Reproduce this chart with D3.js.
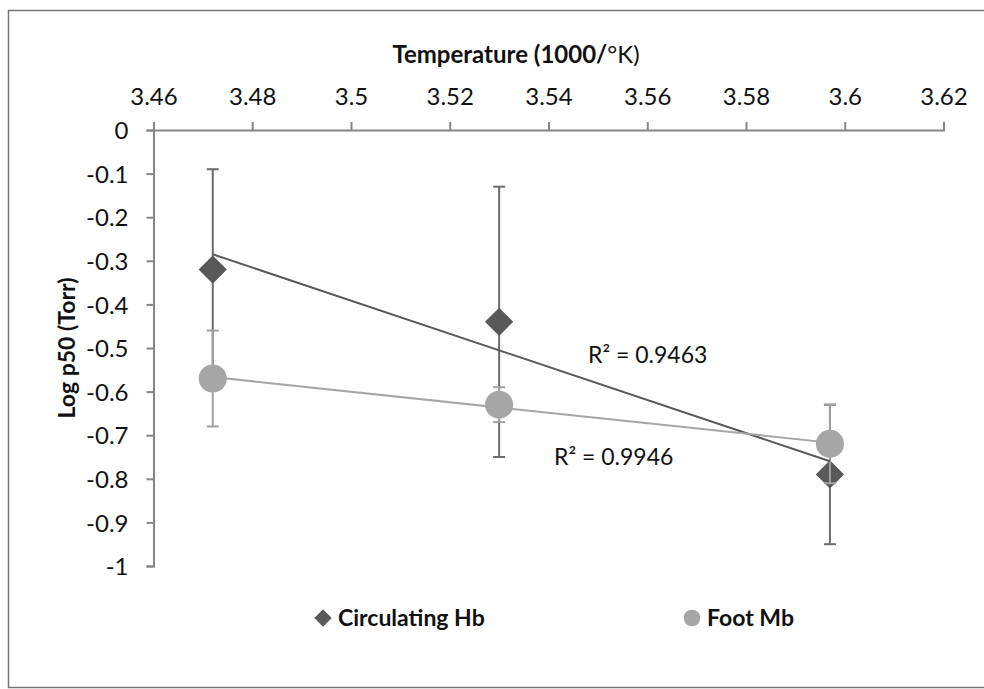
<!DOCTYPE html>
<html>
<head>
<meta charset="utf-8">
<script src="https://d3js.org/d3.v7.min.js"></script>
<style>
  html, body { margin: 0; background: #fff; overflow: hidden; }
  svg { display: block; }
  svg text { font-family: Lato, "Open Sans", sans-serif; fill: #111; }
</style>
</head>
<body>
<div id="chart"></div>
<script>
// data
const seriesNames = ["Circulating Hb", "Foot Mb"];
const temps = [3.472, 3.53, 3.597];
const hbValues = [-0.32, -0.44, -0.79];
const hbErrors = [0.23, 0.31, 0.16];
const mbValues = [-0.57, -0.63, -0.72];
const mbErrors = [0.11, 0.04, 0.09];
const rSquared = ["0.9463", "0.9946"];
const xTicks = [3.46, 3.48, 3.5, 3.52, 3.54, 3.56, 3.58, 3.6, 3.62];
const yTicks = [0, -0.1, -0.2, -0.3, -0.4, -0.5, -0.6, -0.7, -0.8, -0.9, -1];

const width = 984, height = 689;
const svg = d3.select("#chart").append("svg")
    .attr("width", width).attr("height", height);

// outer frame: top, left and bottom edges (right edge is cut off in the picture)
svg.append("path")
    .attr("d", `M${width},10.5 H8.5 V687.5 H${width}`)
    .attr("fill", "none").attr("stroke", "#777").attr("stroke-width", 1.5);

const x = d3.scaleLinear().domain([3.46, 3.62]).range([153.5, 943.5]);
const y = d3.scaleLinear().domain([0, -1]).range([130, 566]);
const fmt = d => d3.format("~g")(d).replace("−", "-");

// axes (x on top, y on left)
const xAxis = svg.append("g")
    .attr("transform", `translate(0,${y(0)})`)
    .call(d3.axisTop(x).tickValues(xTicks).tickSize(8).tickPadding(17).tickFormat(fmt));
const yAxis = svg.append("g")
    .attr("transform", `translate(${x(3.46)},0)`)
    .call(d3.axisLeft(y).tickValues(yTicks).tickSize(7).tickPadding(18).tickFormat(fmt));

[xAxis, yAxis].forEach(a => {
    a.select(".domain").attr("stroke", "#868686").attr("stroke-width", 2);
    a.selectAll(".tick line").attr("stroke", "#868686").attr("stroke-width", 2);
    a.selectAll(".tick text").style("font-size", "24px").attr("fill", "#111");
});
xAxis.selectAll(".tick text").attr("dy", "0");
yAxis.selectAll(".tick text").attr("dy", "0.36em");

// axis titles
const title = svg.append("text")
    .attr("x", 516).attr("y", 63)
    .attr("text-anchor", "middle")
    .style("font-size", "24px");
title.append("tspan").style("font-weight", "bold").text("Temperature (1000/");
title.append("tspan").text("°K)");

svg.append("text")
    .attr("transform", `translate(75,${(y(0) + y(-1)) / 2}) rotate(-90)`)
    .attr("text-anchor", "middle")
    .style("font-size", "23px").style("font-weight", "bold")
    .text("Log p50 (Torr)");

// linear fit for trend lines
function fit(xs, ys) {
    const mx = d3.mean(xs), my = d3.mean(ys);
    const b = d3.sum(xs, (v, i) => (v - mx) * (ys[i] - my)) / d3.sum(xs, v => (v - mx) ** 2);
    return v => my + b * (v - mx);
}

const series = [
    { name: seriesNames[0], values: hbValues, errors: hbErrors, color: "#595959", barColor: "#6b6b6b", shape: d3.symbolSquare, rot: 45, size: 400, legendSize: 150 },
    { name: seriesNames[1], values: mbValues, errors: mbErrors, color: "#a6a6a6", barColor: "#a0a0a0", shape: d3.symbolCircle, rot: 0, size: 620, legendSize: 220 }
];

series.forEach(s => {
    const pts = temps.map((t, i) => ({ t, v: s.values[i], e: s.errors[i] }));
    const g = svg.append("g");

    // error bars
    const eb = g.selectAll(".err").data(pts).join("g");
    eb.append("line")
        .attr("x1", d => x(d.t)).attr("x2", d => x(d.t))
        .attr("y1", d => y(d.v + d.e)).attr("y2", d => y(d.v - d.e))
        .attr("stroke", s.barColor).attr("stroke-width", 2);
    [1, -1].forEach(sign => {
        eb.append("line")
            .attr("x1", d => x(d.t) - 6).attr("x2", d => x(d.t) + 6)
            .attr("y1", d => y(d.v + sign * d.e)).attr("y2", d => y(d.v + sign * d.e))
            .attr("stroke", s.barColor).attr("stroke-width", 2);
    });

    // markers
    g.selectAll(".pt").data(pts).join("path")
        .attr("transform", d => `translate(${x(d.t)},${y(d.v)}) rotate(${s.rot})`)
        .attr("d", d3.symbol().type(s.shape).size(s.size))
        .attr("fill", s.color);
});

// trend lines drawn on top
series.forEach(s => {
    const f = fit(temps, s.values);
    const t0 = d3.min(temps), t1 = d3.max(temps);
    svg.append("line")
        .attr("x1", x(t0)).attr("y1", y(f(t0)))
        .attr("x2", x(t1)).attr("y2", y(f(t1)))
        .attr("stroke", s.color).attr("stroke-width", 2);
});

// R² labels
const rPos = [[588, 363], [554, 465]];
rSquared.forEach((r, i) => {
    svg.append("text")
        .attr("x", rPos[i][0]).attr("y", rPos[i][1])
        .style("font-size", "23px")
        .text(`R² = ${r}`);
});

// legend
const legendX = [323, 692];
series.forEach((s, i) => {
    const lg = svg.append("g").attr("transform", `translate(${legendX[i]},618)`);
    lg.append("path")
        .attr("transform", `rotate(${s.rot})`)
        .attr("d", d3.symbol().type(s.shape).size(s.legendSize))
        .attr("fill", s.color);
    lg.append("text")
        .attr("x", 15).attr("dy", "0.36em")
        .style("font-size", "23px").style("font-weight", "bold")
        .text(s.name);
});
</script>
</body>
</html>
